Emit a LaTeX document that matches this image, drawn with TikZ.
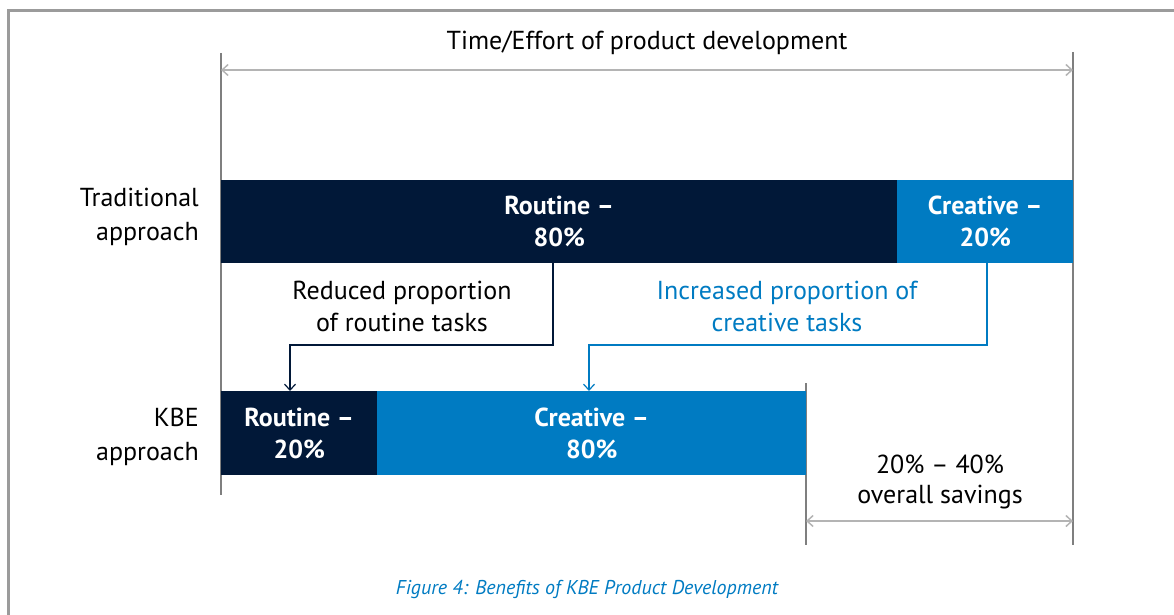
\documentclass[tikz,border=0pt]{standalone}
\usepackage{fontspec}
\setmainfont{PT Sans}
\usetikzlibrary{arrows.meta}
\definecolor{navy}{HTML}{011838}
\definecolor{kblue}{HTML}{007BC2}
\definecolor{framegray}{HTML}{9B9B9B}
\definecolor{linegray}{HTML}{7F7F7F}
\definecolor{dimgray}{HTML}{B4B4B4}
\tikzset{
  bar/.style={anchor=north west, inner sep=0pt, align=center, text=white, font=\fontsize{26}{32}\selectfont\bfseries},
  lbl/.style={inner sep=0pt, font=\fontsize{26}{33}\selectfont},
  conn/.style={line width=1.2pt, -{Straight Barb[length=6pt,width=11pt]}},
  dimline/.style={draw=dimgray, line width=1.5pt, {Straight Barb[length=6pt,width=11pt]}-{Straight Barb[length=6pt,width=11pt]}},
  guide/.style={draw=linegray, line width=1.2pt},
}
\begin{document}
\begin{tikzpicture}[x=1pt,y=-1pt]
\useasboundingbox (0,0) rectangle (1174,615);
% frame
\draw[framegray, line width=3pt] (8.5,615) -- (8.5,11) -- (1174,11);
% guides
\coordinate (gL1) at (221,53); \coordinate (gL2) at (221,495);
\coordinate (gR1) at (1073,52); \coordinate (gR2) at (1073,545);
\coordinate (gM1) at (806,383); \coordinate (gM2) at (806,545);
\draw[guide] (gL1) -- (gL2);
\draw[guide] (gR1) -- (gR2);
\draw[guide] (gM1) -- (gM2);
% title
\node[lbl] (title) at (647,43) {Time/Effort of product development};
\draw[dimline] (gL1 |- 0,70) -- (gR1 |- 0,70);
% traditional bar
\node[bar, fill=navy, minimum width=676pt, minimum height=83pt] (trR) at (221,180) {Routine –\\80\%};
\node[bar, fill=kblue, minimum width=176pt, minimum height=83pt] (trC) at (897,180) {Creative –\\20\%};
\node[lbl, align=right, anchor=east, font=\fontsize{26}{34}\selectfont] (trL) at (199,217) {Traditional\\approach};
% KBE bar
\node[bar, fill=navy, minimum width=156pt, minimum height=84pt] (kR) at (221,391) {Routine –\\20\%};
\node[bar, fill=kblue, minimum width=429pt, minimum height=84pt] (kC) at (377,391) {Creative –\\80\%};
\node[lbl, align=right, anchor=east, font=\fontsize{26}{34}\selectfont] (kL) at (199,437) {KBE\\approach};
% connectors
\draw[conn, navy] (trR.south -| 553,0) |- (290,345) -- (kR.north -| 290,0);
\node[lbl, align=center, font=\fontsize{26}{32}\selectfont] (redt) at (402,306) {Reduced proportion\\of routine tasks};
\draw[conn, kblue] (trC.south -| 987,0) |- (589,345) -- (kC.north -| 589,0);
\node[lbl, align=center, text=kblue, font=\fontsize{26}{32}\selectfont] (inct) at (787,306) {Increased proportion of\\creative tasks};
% savings
\draw[dimline] (gM1 |- 0,521) -- (gR1 |- 0,521);
\node[lbl, align=center, font=\fontsize{26}{30}\selectfont] (sav) at (940,482) {20\% – 40\%\\overall savings};
% caption
\node[inner sep=0pt, text=kblue, font=\fontsize{20}{22}\selectfont\itshape] (cap) at (587,589) {Figure 4: Benefits of KBE Product Development};
\end{tikzpicture}
\end{document}
